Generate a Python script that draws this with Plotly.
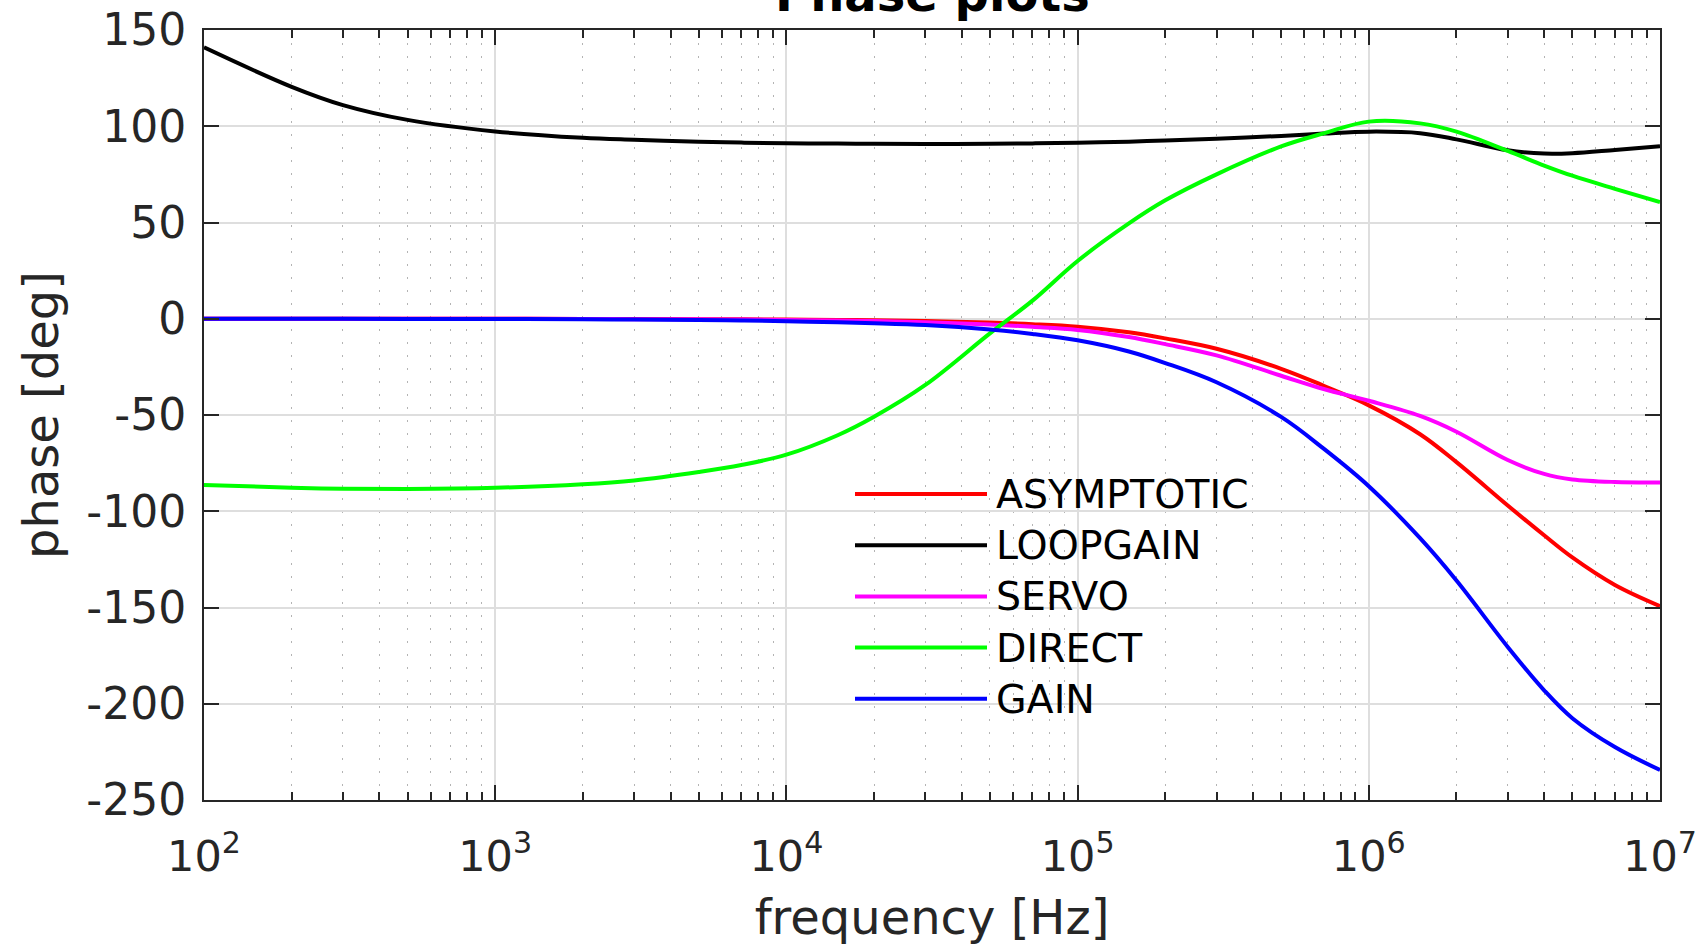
import plotly.graph_objects as go

# ---------------- data ----------------
freq_hz = [1e2, 2e2, 3e2, 5e2, 1e3, 2e3, 3e3, 5e3, 7e3, 1e4, 1.5e4, 2e4, 3e4, 5e4, 7e4, 1e5, 1.5e5,
           2e5, 3e5, 5e5, 7e5, 1e6, 1.5e6, 2e6, 3e6, 4e6, 5e6, 7e6, 1e7]

asymptotic = [0, 0, 0, 0, 0, -0.1, -0.15, -0.2, -0.3, -0.4, -0.6, -0.8, -1.2, -2.0, -2.8, -4.1, -7.0,
              -10.2, -15.6, -26.0, -34.8, -45.0, -60.0, -74.5, -97.0, -112.5, -124.0, -138.3, -149.3]
loopgain = [141.0, 120.5, 111.0, 103.3, 97.3, 94.0, 93.0, 92.0, 91.5, 91.2, 91.0, 90.9, 90.8, 90.9, 91.1, 91.4, 92.0,
            92.6, 93.5, 95.0, 96.2, 97.2, 96.4, 93.2, 87.5, 85.8, 86.0, 87.7, 89.6]
servo = [0, 0, 0, 0, 0, -0.1, -0.2, -0.3, -0.4, -0.6, -0.9, -1.2, -1.8, -3.0, -4.2, -5.8, -9.5,
         -13.2, -19.0, -29.6, -36.5, -42.6, -50.5, -58.7, -73.4, -80.6, -83.5, -84.8, -85.0]
direct = [-86.3, -87.8, -88.3, -88.4, -87.8, -86.0, -84.0, -79.6, -76.0, -70.6, -60.5, -50.9, -34.4, -7.6, 9.4, 30.0, 49.5,
          61.5, 75.0, 89.5, 96.3, 102.4, 101.5, 97.2, 87.2, 79.6, 74.3, 67.5, 60.6]
gain = [0, 0, 0, -0.1, -0.1, -0.3, -0.4, -0.6, -0.9, -1.3, -1.8, -2.3, -3.3, -5.6, -7.9, -11.2, -17.0,
        -23.0, -33.0, -51.0, -67.5, -87.0, -114.0, -136.0, -170.5, -193.0, -207.5, -222.5, -234.4]

series_names = ["ASYMPTOTIC", "LOOPGAIN", "SERVO", "DIRECT", "GAIN"]
series_values = [asymptotic, loopgain, servo, direct, gain]
series_colors = ["#ff0000", "#000000", "#ff00ff", "#00ff00", "#0000ff"]

x_tick_vals = [1e2, 1e3, 1e4, 1e5, 1e6, 1e7]
x_tick_exp = ["2", "3", "4", "5", "6", "7"]
y_tick_vals = [-250, -200, -150, -100, -50, 0, 50, 100, 150]
y_tick_text = ["-250", "-200", "-150", "-100", "-50", "0", "50", "100", "150"]

title_text = "Phase plots"
x_label = "frequency [Hz]"
y_label = "phase [deg]"

# ---------------- layout constants ----------------
W, H = 1702, 945
L, R, T, B = 204, 42, 30, 145
PW, PH = W - L - R, H - T - B
FONT = "DejaVu Sans"
AX = "#262626"

x_tick_text = ["10<sup>" + e + "</sup>" for e in x_tick_exp]

fig = go.Figure()
for name, vals, col in zip(series_names, series_values, series_colors):
    fig.add_trace(go.Scatter(x=freq_hz, y=vals, mode="lines", name=name,
                             line=dict(color=col, width=4, shape="spline", smoothing=1.0),
                             showlegend=False))

common_axis = dict(showline=True, linecolor=AX, linewidth=2, mirror="ticks",
                   ticks="inside", ticklen=15, tickwidth=2, tickcolor=AX,
                   ticklabeloverflow="allow",
                   showgrid=True, gridcolor="#dedede", gridwidth=1.5,
                   zeroline=False, automargin=False)

fig.update_xaxes(type="log", range=[2, 7], tickvals=x_tick_vals, ticktext=x_tick_text,
                 tickfont=dict(family=FONT, size=43, color=AX), ticklabelstandoff=17,
                 minor=dict(ticks="inside", ticklen=8, tickwidth=2, tickcolor=AX,
                            dtick="D1", showgrid=True, gridcolor="#b4b4b4",
                            griddash="2px,11px", gridwidth=1),
                 title=dict(text=x_label, font=dict(family=FONT, size=48, color=AX), standoff=23),
                 **common_axis)
fig.update_yaxes(range=[-250, 150], tickvals=y_tick_vals, ticktext=y_tick_text,
                 tickfont=dict(family=FONT, size=44, color=AX), ticklabelstandoff=7,
                 title=dict(text=y_label, font=dict(family=FONT, size=48, color=AX), standoff=13),
                 **common_axis)

# title (partly cut at the top as in the reference)
annotations = [dict(text="<b>" + title_text + "</b>", xref="paper", yref="paper",
                    x=0.5, y=1, xanchor="center", yanchor="bottom", yshift=6,
                    showarrow=False, font=dict(family=FONT, size=48, color="#000000"))]

# custom legend (no box): long line samples followed by the names
leg_x0, leg_x1, leg_tx = 855, 987, 994
leg_y0, leg_dy = 494, 51.2
shapes = []
for i, (name, col) in enumerate(zip(series_names, series_colors)):
    py = leg_y0 + i * leg_dy
    yp = (T + PH - py) / PH
    shapes.append(dict(type="line", xref="paper", yref="paper",
                       x0=(leg_x0 - L) / PW, x1=(leg_x1 - L) / PW, y0=yp, y1=yp,
                       line=dict(color=col, width=4)))
    annotations.append(dict(text=name, xref="paper", yref="paper",
                            x=(leg_tx - L) / PW, y=yp, xanchor="left", yanchor="middle",
                            showarrow=False, font=dict(family=FONT, size=39.5, color="#000000")))

fig.update_layout(width=W, height=H, margin=dict(l=L, r=R, t=T, b=B, pad=0),
                  paper_bgcolor="white", plot_bgcolor="white",
                  shapes=shapes, annotations=annotations, showlegend=False,
                  font=dict(family=FONT))

fig.write_html("out.html", config={"displayModeBar": False},
               post_script="document.body.style.margin='0px';document.body.style.overflow='hidden';")
